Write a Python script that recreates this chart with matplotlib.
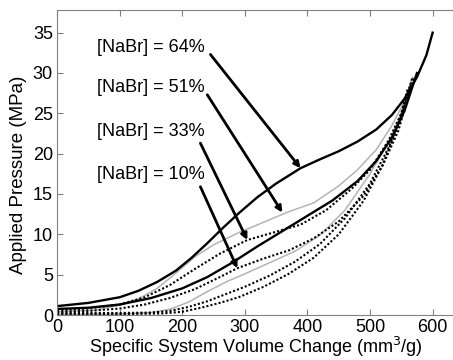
import matplotlib
matplotlib.use("Agg")
import matplotlib.pyplot as plt

plt.rcParams["font.family"] = ["Liberation Sans", "DejaVu Sans"]

# ── curve data (volume mm3/g, pressure MPa) ──
a_x = [0, 50, 100, 130, 160, 190, 215, 240, 265, 290, 320, 350, 389, 420, 450,
       480, 510, 535, 555, 575, 590, 600]
a_y = [1.1, 1.5, 2.2, 3.0, 4.1, 5.5, 7.1, 8.9, 10.8, 12.6, 14.6, 16.3, 18.2, 19.3,
       20.3, 21.5, 23.0, 24.8, 26.8, 29.5, 32.2, 35.0]

b_x = [0, 50, 100, 150, 200, 240, 280, 320, 360, 400, 440, 480, 510, 535, 555, 575]
b_y = [0.75, 0.9, 1.3, 2.1, 3.3, 4.7, 6.5, 8.5, 10.4, 12.3, 14.2, 16.6, 19.1, 22.0,
       25.3, 30.0]

g1_x = [0, 60, 100, 130, 160, 190, 220, 250, 290, 330, 370, 410, 450, 480, 510,
        535, 555, 568]
g1_y = [0.4, 0.6, 1.2, 2.0, 3.3, 5.2, 7.2, 8.7, 10.2, 11.5, 12.8, 13.9, 16.0, 18.0,
        20.5, 23.5, 26.5, 29.5]

g2_x = [0, 100, 150, 180, 210, 240, 270, 300, 340, 380, 420, 460, 500, 530, 550, 565]
g2_y = [0.1, 0.1, 0.3, 0.7, 1.6, 2.9, 4.1, 5.1, 6.5, 7.9, 9.9, 13.0, 17.5, 21.5,
        25.0, 28.5]

d1_x = [0, 50, 100, 140, 180, 220, 260, 304, 340, 389, 430, 470, 500, 530, 550, 568]
d1_y = [0.6, 0.8, 1.3, 2.2, 3.7, 5.7, 7.6, 9.3, 10.1, 11.2, 13.0, 15.6, 18.0, 21.7,
        25.0, 29.5]

d2_x = [0, 50, 100, 140, 180, 220, 260, 288, 330, 370, 410, 450, 490, 520, 545, 570]
d2_y = [0.4, 0.5, 0.8, 1.3, 2.1, 3.2, 4.7, 5.8, 7.0, 8.0, 9.5, 11.6, 14.8, 18.5,
        22.8, 29.4]

d3_x = [0, 100, 150, 180, 210, 240, 270, 300, 340, 380, 420, 460, 500, 530, 550, 565]
d3_y = [0.25, 0.25, 0.3, 0.5, 1.0, 1.7, 2.6, 3.5, 4.9, 6.6, 8.8, 12.0, 16.3, 20.8,
        24.6, 28.5]

d4_x = [0, 100, 170, 200, 230, 260, 290, 330, 370, 410, 450, 490, 520, 545, 560]
d4_y = [0.1, 0.1, 0.2, 0.4, 0.9, 1.5, 2.2, 3.5, 5.1, 7.1, 10.0, 14.2, 18.6, 23.5,
        28.0]

labels = ["[NaBr] = 64%", "[NaBr] = 51%", "[NaBr] = 33%", "[NaBr] = 10%"]
label_y = [33.2, 28.2, 22.7, 17.4]
arrow_tail = [(245, 32.3), (240, 27.3), (229, 21.3), (229, 15.9)]
arrow_head = [(389, 18.2), (360, 12.7), (304, 9.3), (288, 5.8)]

fig = plt.figure(figsize=(4.53, 3.6), dpi=100)
ax = fig.add_axes([0.126, 0.125, 0.876, 0.847])

dots = (0, (1, 1))
ax.plot(g1_x, g1_y, color="#b4b4b4", lw=1.1)
ax.plot(g2_x, g2_y, color="#b4b4b4", lw=1.1)
for xs, ys in [(d1_x, d1_y), (d2_x, d2_y), (d3_x, d3_y), (d4_x, d4_y)]:
    ax.plot(xs, ys, color="k", lw=1.5, linestyle=dots)
ax.plot(b_x, b_y, color="k", lw=1.7)
ax.plot(a_x, a_y, color="k", lw=1.7)

for txt, ty, tail, head in zip(labels, label_y, arrow_tail, arrow_head):
    ax.text(64, ty, txt, fontsize=13, va="center", ha="left")
    ax.annotate("", xy=head, xytext=tail,
                arrowprops=dict(arrowstyle="-|>", lw=2.0, color="k",
                                mutation_scale=9, shrinkA=0, shrinkB=0))

ax.set_xlim(0, 634)
ax.set_ylim(0, 37.8)
ax.set_xticks(range(0, 601, 100))
ax.set_yticks(range(0, 36, 5))
ax.tick_params(direction="in", top=True, right=False, length=4,
               color="#808080", labelsize=13, pad=3)
for s in ax.spines.values():
    s.set_color("#808080")
ax.spines["right"].set_visible(False)

ax.set_xlabel("Specific System Volume Change (mm$^3$/g)", fontsize=13, labelpad=-1)
ax.set_ylabel("Applied Pressure (MPa)", fontsize=13.5)
ax.yaxis.set_label_coords(-0.075, 0.46)

fig.savefig("out.png", dpi=100)
